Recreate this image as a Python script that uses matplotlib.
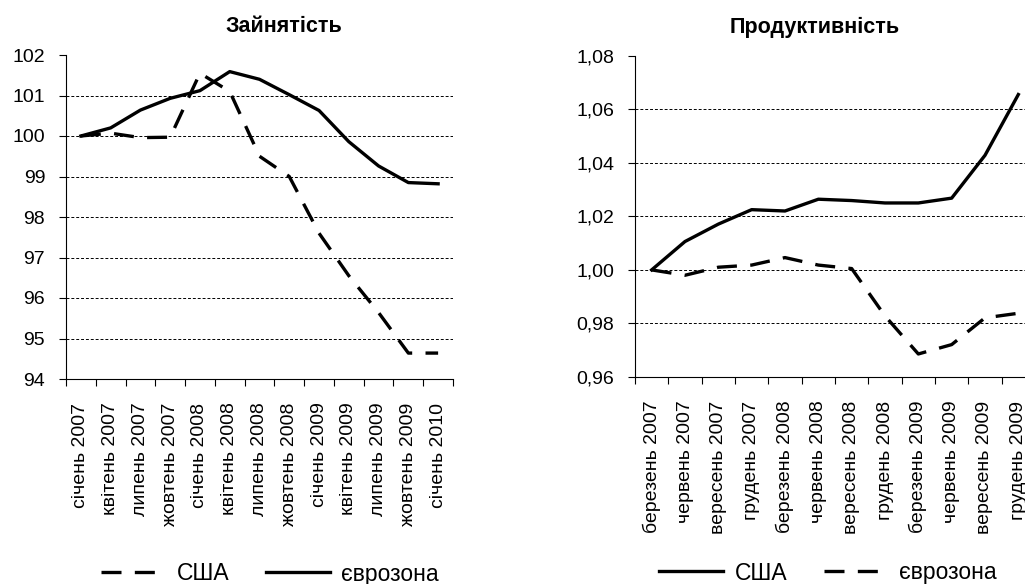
import numpy as np
import matplotlib
matplotlib.use("Agg")
import matplotlib.pyplot as plt
from matplotlib.ticker import FuncFormatter

plt.rcParams['font.family'] = ['Liberation Sans', 'DejaVu Sans']

# зайнятість (ліва панель)
emp_labels = ['січень 2007', 'квітень 2007', 'липень 2007', 'жовтень 2007',
              'січень 2008', 'квітень 2008', 'липень 2008', 'жовтень 2008',
              'січень 2009', 'квітень 2009', 'липень 2009', 'жовтень 2009',
              'січень 2010']
emp_usa = [100.0, 100.07, 99.96, 99.97, 101.55, 101.1, 99.5, 99.0,
           97.6, 96.55, 95.64, 94.64, 94.64]
emp_euro = [100.0, 100.2, 100.64, 100.93, 101.12, 101.59, 101.4, 101.02,
            100.63, 99.86, 99.26, 98.85, 98.82]

# продуктивність (права панель)
prod_labels = ['березень 2007', 'червень 2007', 'вересень 2007', 'грудень 2007',
               'березень 2008', 'червень 2008', 'вересень 2008', 'грудень 2008',
               'березень 2009', 'червень 2009', 'вересень 2009', 'грудень 2009']
prod_usa = [1.000, 1.0106, 1.0171, 1.0225, 1.022, 1.0264, 1.0259, 1.025,
            1.025, 1.0268, 1.0428, 1.0655]
prod_euro = [1.000, 0.998, 1.001, 1.0018, 1.0046, 1.0018, 1.0005, 0.9828,
             0.9686, 0.9721, 0.9821, 0.9838]

fig = plt.figure(figsize=(10.25, 5.84), dpi=100)
W, H = 1025, 584
ax1 = fig.add_axes([66 / W, 1 - 379 / H, (453 - 66) / W, (379 - 55) / H])
ax2 = fig.add_axes([635 / W, 1 - 377 / H, (1035 - 635) / W, (377 - 55.7) / H])

lw = 2.4
dash = (0, (6, 4))


def style(ax, labels, ylo, yhi, step, fmt):
    n = len(labels)
    x = np.arange(n)
    ax.set_xlim(-0.5, n - 0.5)
    ax.set_ylim(ylo, yhi)
    ax.set_xticks(x)
    ax.set_xticklabels(labels, rotation=90, fontsize=14)
    ax.set_xticks(np.arange(n + 1) - 0.5, minor=True)
    ax.tick_params(axis='x', which='major', length=0, pad=17)
    ax.tick_params(axis='x', which='minor', length=5, width=0.8, direction='out')
    yt = np.arange(ylo, yhi + step / 2, step)
    ax.set_yticks(yt)
    ax.yaxis.set_major_formatter(FuncFormatter(fmt))
    ax.tick_params(axis='y', length=5, width=0.8, direction='out', labelsize=14, pad=10)
    for s in ['top', 'right']:
        ax.spines[s].set_visible(False)
    for s in ['left', 'bottom']:
        ax.spines[s].set_linewidth(0.8)
    for v in yt[1:-1]:
        ax.axhline(v, color='black', lw=0.7, linestyle=(0, (3, 2)), zorder=0)


x1 = np.arange(len(emp_labels))
ax1.plot(x1, emp_usa, color='black', lw=lw, linestyle=dash, label='США')
ax1.plot(x1, emp_euro, color='black', lw=lw, label='єврозона')
style(ax1, emp_labels, 94, 102, 1, lambda v, p: '%d' % round(v))

x2 = np.arange(len(prod_labels))
ax2.plot(x2, prod_usa, color='black', lw=lw, label='США')
ax2.plot(x2, prod_euro, color='black', lw=lw, linestyle=dash, label='єврозона')
style(ax2, prod_labels, 0.96, 1.08, 0.02, lambda v, p: ('%.2f' % v).replace('.', ','))

fig.text(284 / W, 1 - 27 / H, 'Зайнятість', ha='center', va='center',
         fontsize=15.5, fontweight='bold')
fig.text(815 / W, 1 - 27 / H, 'Продуктивність', ha='center', va='center',
         fontsize=15.5, fontweight='bold')

leg_kw = dict(loc='center', bbox_transform=fig.transFigure, ncol=2, frameon=False,
              fontsize=16.5, handlelength=2.8, columnspacing=1.6, handletextpad=0.5)
ax1.legend(bbox_to_anchor=(270 / W, 1 - 574 / H), **leg_kw)
ax2.legend(bbox_to_anchor=(828 / W, 1 - 573 / H), **leg_kw)

fig.savefig('out.png', dpi=100)
